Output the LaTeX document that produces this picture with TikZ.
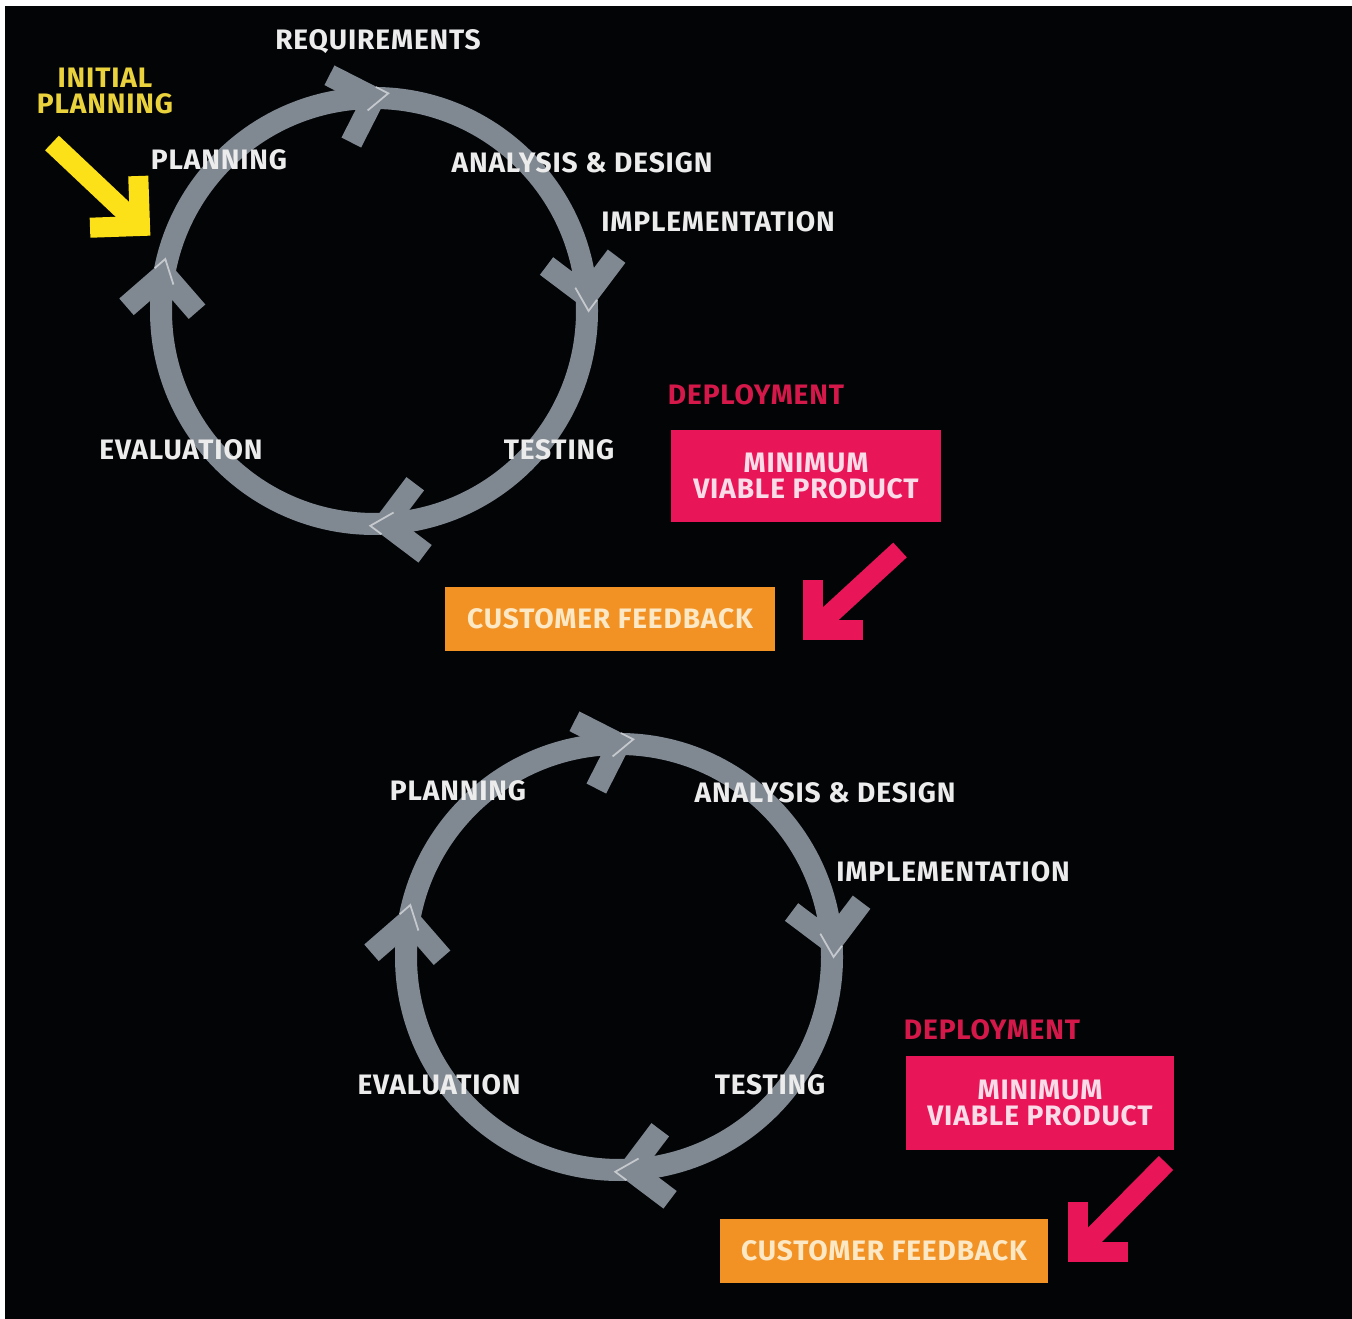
\documentclass[tikz,border=0pt]{standalone}
\usepackage{fontspec}
\newfontfamily\lblfont[LetterSpace=3]{Fira Sans}
\usetikzlibrary{calc}

\definecolor{bgblack}{RGB}{3,4,6}
\definecolor{ringgray}{RGB}{128,137,146}
\definecolor{lblwhite}{RGB}{236,236,236}
\definecolor{inityellow}{RGB}{234,210,60}
\definecolor{arrowyellow}{RGB}{252,224,24}
\definecolor{mvppink}{RGB}{232,22,88}
\definecolor{deppink}{RGB}{212,24,74}
\definecolor{mvptext}{RGB}{250,220,232}
\definecolor{cforange}{RGB}{243,146,36}
\definecolor{cftext}{RGB}{252,232,196}

\tikzset{
  lbl/.style={font=\lblfont\bfseries\fontsize{8}{7.4}\selectfont,
    text=lblwhite, inner sep=0pt, align=center},
  ring/.style={ringgray, line width=6.26pt},
  chev/.style={ringgray, line width=6.26pt, line join=miter, miter limit=10},
  shine/.style={white, line width=0.5pt, opacity=0.55},
  fat/.style={line width=5.7pt, line join=miter, miter limit=10},
  box/.style={lbl, inner sep=0pt}
}

% V shaped head: #1 apex, #2 forward angle, #3 style
\newcommand\vhead[3]{%
  \draw[#3] ($(#1)+(#2+135:50)$) -- (#1) -- ($(#1)+(#2-135:50)$);}

\begin{document}
\begin{tikzpicture}[x=0.01cm, y=0.01cm]
  \useasboundingbox (0,0) rectangle (1352,1319);
  \fill[white] (0,0) rectangle (1352,1319);
  \fill[bgblack] (5,0) rectangle (1352,1313);

  % centres of the two cycles
  \coordinate (c1) at (374,1008);
  \coordinate (c2) at (619,362);

  % rings with their heads
  \foreach \c in {c1,c2} {
    \draw[ring] (\c) circle (213);
    \foreach \a/\r in {90/18, 4/4, -87/5, 170/6} {
      \pgfmathsetmacro\f{\a-90+\r}
      \coordinate (p) at ($(\c)+(\a:213)$);
      \vhead{p}{\f}{chev}
      \draw[shine] ($(p)+(\f:15)+(\f+135:14)$) -- ($(p)+(\f:15)$)
        -- ($(p)+(\f-135:14)$);
    }
  }

  % first cycle
  \node[lbl] (req1) at (378,1277) {REQUIREMENTS};
  \node[lbl, text=inityellow] (init) at (105,1228) {INITIAL\\PLANNING};
  \node[lbl] (plan1) at (219,1159) {PLANNING};
  \node[lbl] (anl1) at (582,1156) {ANALYSIS \& DESIGN};
  \node[lbl] (impl1) at (718,1097) {IMPLEMENTATION};
  \node[lbl] (eval1) at (181,869) {EVALUATION};
  \node[lbl] (test1) at (559,869) {TESTING};
  \node[lbl, text=deppink] (dep1) at (756,924) {DEPLOYMENT};
  \node[box, fill=mvppink, text=mvptext, minimum width=2.7cm,
    minimum height=0.92cm] (mvp1) at (806,843) {MINIMUM\\VIABLE PRODUCT};
  \node[box, fill=cforange, text=cftext, minimum width=3.29cm,
    minimum height=0.63cm] (cf1) at (610,700) {CUSTOMER FEEDBACK};

  % second cycle
  \node[lbl] (plan2) at (458,528) {PLANNING};
  \node[lbl] (anl2) at (825,526) {ANALYSIS \& DESIGN};
  \node[lbl] (impl2) at (953,447) {IMPLEMENTATION};
  \node[lbl] (eval2) at (439,234) {EVALUATION};
  \node[lbl] (test2) at (770,234) {TESTING};
  \node[lbl, text=deppink] (dep2) at (992,289) {DEPLOYMENT};
  \node[box, fill=mvppink, text=mvptext, minimum width=2.68cm,
    minimum height=0.93cm] (mvp2) at (1040,216) {MINIMUM\\VIABLE PRODUCT};
  \node[box, fill=cforange, text=cftext, minimum width=3.28cm,
    minimum height=0.63cm] (cf2) at (884,68) {CUSTOMER FEEDBACK};

  % fat arrows
  \coordinate (ytail) at (52,1176);
  \coordinate (yhead) at (140,1093);
  \draw[fat, arrowyellow] (ytail) -- (yhead);
  \vhead{yhead}{-43}{fat, arrowyellow}

  \coordinate (ptail1) at (900,769);
  \coordinate (phead1) at (813,689);
  \draw[fat, mvppink] (ptail1) -- (phead1);
  \vhead{phead1}{-135}{fat, mvppink}

  \coordinate (ptail2) at (1166,156);
  \coordinate (phead2) at (1078,67);
  \draw[fat, mvppink] (ptail2) -- (phead2);
  \vhead{phead2}{-135}{fat, mvppink}
\end{tikzpicture}
\end{document}
